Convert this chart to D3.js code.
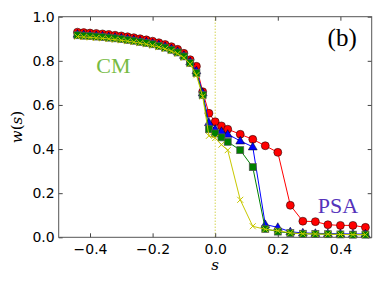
<!DOCTYPE html>
<html>
<head>
<meta charset="utf-8">
<script src="https://d3js.org/d3.v7.min.js"></script>
<style>
  body { margin: 0; background: #fff; }
  text { font-family: "DejaVu Sans", sans-serif; }
  .serif { font-family: "DejaVu Serif", "Liberation Serif", serif; }
  .times { font-family: "Liberation Serif", serif; }
</style>
</head>
<body>
<div id="chart"></div>
<script>
// s values shared by all series
const sVals = [-0.44, -0.42, -0.40, -0.38, -0.36, -0.34, -0.32, -0.30, -0.28, -0.26,
  -0.24, -0.22, -0.20, -0.18, -0.16, -0.14, -0.12, -0.10, -0.08, -0.06,
  -0.04, -0.02, 0.00, 0.02, 0.04, 0.08, 0.12, 0.16, 0.20, 0.24,
  0.28, 0.32, 0.36, 0.40, 0.44, 0.48];

const redVals = [0.930, 0.928, 0.926, 0.924, 0.922, 0.919, 0.916, 0.913, 0.909, 0.905,
  0.900, 0.895, 0.889, 0.882, 0.874, 0.864, 0.852, 0.834, 0.805, 0.775,
  0.660, 0.562, 0.524, 0.505, 0.490, 0.467, 0.444, 0.415, 0.385, 0.145,
  0.073, 0.071, 0.057, 0.054, 0.054, 0.045];

const blueVals = [0.921, 0.919, 0.917, 0.915, 0.913, 0.910, 0.907, 0.904, 0.900, 0.896,
  0.891, 0.886, 0.880, 0.873, 0.865, 0.855, 0.843, 0.825, 0.796, 0.755,
  0.655, 0.520, 0.490, 0.480, 0.467, 0.437, 0.410, 0.058, 0.045, 0.025,
  0.020, 0.018, 0.017, 0.016, 0.015, 0.015];

const greenVals = [0.916, 0.914, 0.912, 0.910, 0.908, 0.905, 0.902, 0.899, 0.895, 0.891,
  0.886, 0.881, 0.875, 0.868, 0.860, 0.850, 0.838, 0.820, 0.790, 0.745,
  0.645, 0.490, 0.471, 0.453, 0.433, 0.395, 0.318, 0.038, 0.026, 0.019,
  0.016, 0.015, 0.014, 0.013, 0.012, 0.012];

const yellowVals = [0.910, 0.908, 0.906, 0.904, 0.902, 0.899, 0.896, 0.893, 0.889, 0.885,
  0.880, 0.875, 0.869, 0.862, 0.854, 0.844, 0.832, 0.814, 0.785, 0.735,
  0.638, 0.460, 0.450, 0.420, 0.395, 0.170, 0.050, 0.036, 0.030, 0.020,
  0.016, 0.015, 0.014, 0.013, 0.012, 0.012];

const xTicks = [-0.4, -0.2, 0.0, 0.2, 0.4];
const yTicks = [0.0, 0.2, 0.4, 0.6, 0.8, 1.0];

const W = 381, H = 286;
const margin = { top: 16.7, right: 9.3, bottom: 48.7, left: 58.7 };
const width = W - margin.left - margin.right,
  height = H - margin.top - margin.bottom;

const svg = d3.select("#chart").append("svg")
  .attr("width", W).attr("height", H);
const g = svg.append("g")
  .attr("transform", "translate(" + margin.left + "," + margin.top + ")");

const x = d3.scaleLinear().domain([-0.5, 0.5]).range([0, width]);
const y = d3.scaleLinear().domain([0, 1]).range([height, 0]);

const fmt = d => d3.format(".1f")(d).replace("-", "\u2212");

// dotted line at s = 0
g.append("line")
  .attr("x1", x(0)).attr("x2", x(0)).attr("y1", 0).attr("y2", height)
  .attr("stroke", "#bfbf00").attr("stroke-width", 1)
  .attr("stroke-dasharray", "1,2");

// axes with inward ticks on all sides
g.append("g").attr("transform", "translate(0," + height + ")")
  .call(d3.axisBottom(x).tickValues(xTicks).tickSizeInner(-4).tickSizeOuter(0).tickPadding(7).tickFormat(fmt));
g.append("g")
  .call(d3.axisLeft(y).tickValues(yTicks).tickSizeInner(-4).tickSizeOuter(0).tickPadding(4).tickFormat(fmt));
g.append("g")
  .call(d3.axisTop(x).tickValues(xTicks).tickSizeInner(-4).tickSizeOuter(0).tickFormat(""));
g.append("g").attr("transform", "translate(" + width + ",0)")
  .call(d3.axisRight(y).tickValues(yTicks).tickSizeInner(-4).tickSizeOuter(0).tickFormat(""));

g.selectAll(".domain").remove();
g.selectAll(".tick line").attr("stroke", "#444");
g.selectAll(".tick text").attr("font-size", 14).attr("fill", "#000")
  .attr("font-family", "DejaVu Sans, sans-serif");

g.append("rect").attr("width", width).attr("height", height)
  .attr("fill", "none").attr("stroke", "#555").attr("stroke-width", 1);

const series = [
  { vals: redVals, color: "#ff0000", marker: "circle" },
  { vals: blueVals, color: "#0000ff", marker: "triangle" },
  { vals: greenVals, color: "#008000", marker: "square" },
  { vals: yellowVals, color: "#c8c800", marker: "x" }
];

const line = d3.line().x(d => x(d[0])).y(d => y(d[1]));

series.forEach(sr => {
  const pts = sVals.map((s, i) => [s, sr.vals[i]]);
  const sg = g.append("g");
  sg.append("path").attr("d", line(pts))
    .attr("fill", "none").attr("stroke", sr.color).attr("stroke-width", 1);
  if (sr.marker === "circle") {
    sg.selectAll("circle").data(pts).join("circle")
      .attr("cx", d => x(d[0])).attr("cy", d => y(d[1])).attr("r", 4)
      .attr("fill", sr.color).attr("stroke", "#000").attr("stroke-width", 0.5);
  } else if (sr.marker === "triangle") {
    const sym = d3.symbol().type(d3.symbolTriangle).size(34);
    sg.selectAll("path.m").data(pts).join("path").attr("class", "m")
      .attr("d", sym)
      .attr("transform", d => "translate(" + x(d[0]) + "," + (y(d[1]) + 0.5) + ")")
      .attr("fill", sr.color).attr("stroke", "#000").attr("stroke-width", 0.5);
  } else if (sr.marker === "square") {
    sg.selectAll("rect").data(pts).join("rect")
      .attr("x", d => x(d[0]) - 3.5).attr("y", d => y(d[1]) - 3.5)
      .attr("width", 7).attr("height", 7)
      .attr("fill", sr.color).attr("stroke", "#555").attr("stroke-width", 0.7);
  } else {
    sg.selectAll("path.m").data(pts).join("path").attr("class", "m")
      .attr("d", "M-3,-3L3,3M-3,3L3,-3")
      .attr("transform", d => "translate(" + x(d[0]) + "," + y(d[1]) + ")")
      .attr("stroke", sr.color).attr("stroke-width", 1).attr("fill", "none");
  }
});

// annotations
g.append("text").attr("class", "times").attr("x", x(-0.38)).attr("y", y(0.745))
  .attr("font-size", 22).attr("fill", "#77bb44").text("CM");
g.append("text").attr("class", "times").attr("x", x(0.328)).attr("y", y(0.11))
  .attr("font-size", 22).attr("fill", "#5533bb").text("PSA");
g.append("text").attr("class", "times").attr("x", x(0.359)).attr("y", y(0.867))
  .attr("font-size", 25).attr("fill", "#000").text("(b)");

// axis labels
svg.append("text").attr("class", "serif")
  .attr("x", margin.left + x(0)).attr("y", 270)
  .attr("text-anchor", "middle").attr("font-size", 15).attr("font-style", "italic")
  .text("s");
svg.append("text").attr("class", "serif")
  .attr("transform", "translate(22," + (margin.top + height / 2) + ") rotate(-90)")
  .attr("text-anchor", "middle").attr("font-size", 15)
  .html('<tspan font-style="italic">w</tspan>(<tspan font-style="italic">s</tspan>)');
</script>
</body>
</html>
